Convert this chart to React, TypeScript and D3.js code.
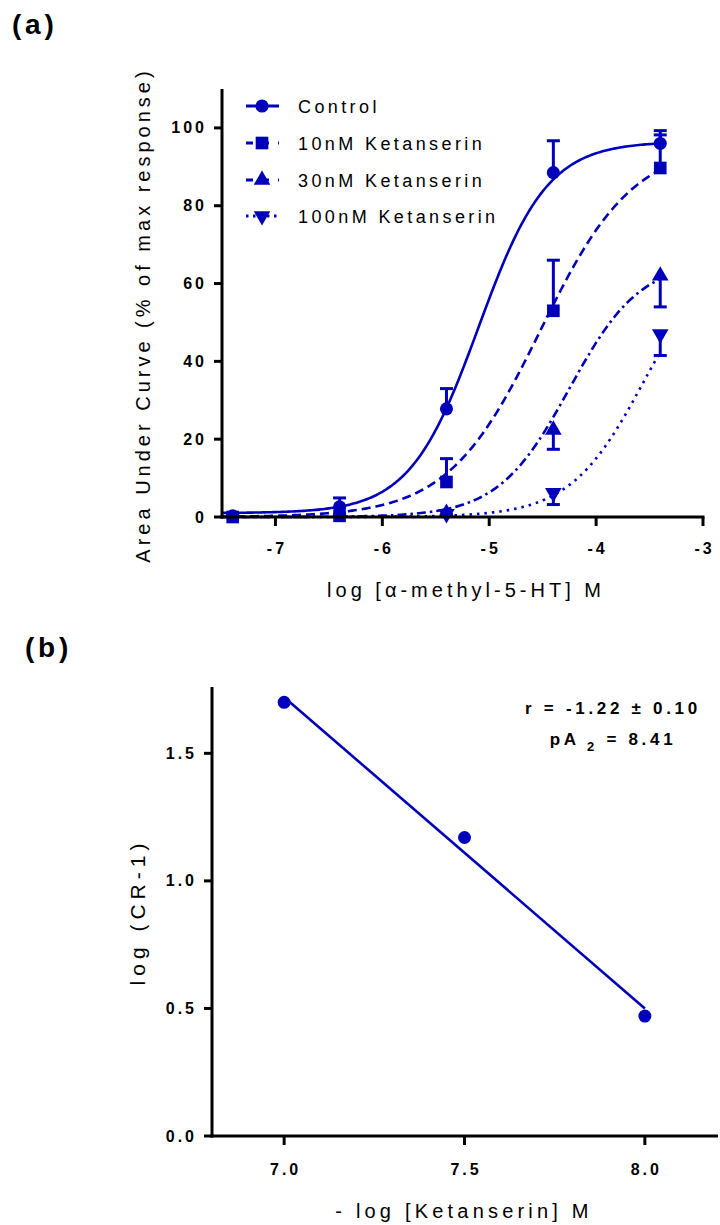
import React from "react";
import * as d3 from "d3";

// ---------- Panel (a) data ----------
const doseLog = [-7.4, -6.4, -5.4, -4.4, -3.4];
const seriesNames = ["Control", "10nM Ketanserin", "30nM Ketanserin", "100nM Ketanserin"];
const controlMean = [0.3, 2.6, 27.8, 88.5, 96.0];
const controlSem = [0.3, 2.3, 5.2, 8.2, 3.3];
const tenMean = [0.0, 0.3, 9.0, 53.0, 89.7];
const tenSem = [0.2, 0.4, 6.0, 13.0, 8.5];
const thirtyDose = [-5.4, -4.4, -3.4];
const thirtyMean = [1.0, 22.4, 62.0];
const thirtySem = [0.4, 5.0, 8.0];
const hundredDose = [-5.4, -4.4, -3.4];
const hundredMean = [0.8, 6.2, 47.0];
const hundredSem = [0.4, 3.0, 5.5];
// error bar direction (+1 up, -1 down)
const errDir = [1, 1, -1, -1];
// four-parameter logistic fit parameters per series
const fitBottom = [1.0, 0.0, 0.0, 0.0];
const fitTop = [96.5, 96.0, 66.0, 70.0];
const fitLogEC50 = [-5.1, -4.52, -4.25, -3.55];
const fitHill = [1.35, 1.0, 1.3, 1.25];
const xTicksA = [-7, -6, -5, -4, -3];
const yTicksA = [0, 20, 40, 60, 80, 100];

// ---------- Panel (b) data ----------
const antagLog = [7.0, 7.5, 8.0];
const logCR1 = [1.70, 1.17, 0.47];
const regSlope = -1.22;
const regAt7 = 1.72;
const xTicksB = [7.0, 7.5, 8.0];
const yTicksB = [0.0, 0.5, 1.0, 1.5];

const BLUE = "#0000bb";
const FONT = "'Liberation Sans', Arial, Helvetica, sans-serif";

const dashes = [null, "9,5", "9,4,2.5,4", "2.5,5"];
const symbols = [d3.symbolCircle, d3.symbolSquare, d3.symbolTriangle, d3.symbolTriangle];
const symSizes = [135, 160, 120, 120];
const symRot = [0, 0, 0, 180];

export default function App() {
  // Panel a scales
  const xA = d3.scaleLinear().domain([-7.5, -3]).range([222, 703]);
  const yA = d3.scaleLinear().domain([0, 110]).range([517, 89]);
  // Panel b scales
  const xB = d3.scaleLinear().domain([6.8, 8.2]).range([212, 717]);
  const yB = d3.scaleLinear().domain([0, 1.76]).range([1136, 687]);

  const series = [
    { x: doseLog, m: controlMean, s: controlSem },
    { x: doseLog, m: tenMean, s: tenSem },
    { x: thirtyDose, m: thirtyMean, s: thirtySem },
    { x: hundredDose, m: hundredMean, s: hundredSem },
  ];

  const logistic = (i: number, x: number) =>
    fitBottom[i] + (fitTop[i] - fitBottom[i]) / (1 + Math.pow(10, (fitLogEC50[i] - x) * fitHill[i]));

  const curvePath = (i: number) => {
    const xs = d3.range(-7.5, -3.4 + 1e-9, 0.02);
    return d3
      .line<number>()
      .x((d) => xA(d))
      .y((d) => yA(logistic(i, d)))
      .curve(d3.curveLinear)(xs) as string;
  };

  const sym = (i: number) => d3.symbol().type(symbols[i]).size(symSizes[i])() as string;

  const legendY = [106, 143, 180, 216];

  return (
    <svg
      width={720}
      height={1225}
      style={{ position: "absolute", left: 0, top: 0, background: "#fff" }}
      fontFamily={FONT}
    >
      <rect width={720} height={1225} fill="#fff" />
      {/* Panel labels */}
      <text x={12} y={34} fontSize={28} fontWeight="bold" letterSpacing={3.8}>(a)</text>
      <text x={25} y={657} fontSize={28} fontWeight="bold" letterSpacing={3.8}>(b)</text>

      {/* ===== Panel A ===== */}
      <g>
        {/* curves */}
        {seriesNames.map((_, i) => (
          <path
            key={"c" + i}
            d={curvePath(i)}
            fill="none"
            stroke={BLUE}
            strokeWidth={2.6}
            strokeDasharray={dashes[i] || undefined}
          />
        ))}
        {/* error bars */}
        {series.map((s, i) =>
          s.x.map((x, j) => {
            const y0 = yA(s.m[j]);
            const y1 = yA(s.m[j] + errDir[i] * s.s[j]);
            return (
              <g key={"e" + i + "-" + j} stroke={BLUE} strokeWidth={3}>
                <line x1={xA(x)} x2={xA(x)} y1={y0} y2={y1} />
                <line x1={xA(x) - 6.5} x2={xA(x) + 6.5} y1={y1} y2={y1} />
              </g>
            );
          })
        )}
        {/* markers */}
        {series.map((s, i) =>
          s.x.map((x, j) => (
            <path
              key={"m" + i + "-" + j}
              d={sym(i)}
              transform={`translate(${xA(x)},${yA(s.m[j])}) rotate(${symRot[i]})`}
              fill={BLUE}
            />
          ))
        )}
        {/* axes */}
        <line x1={222} x2={222} y1={yA(110)} y2={518.5} stroke="#000" strokeWidth={3} />
        <line x1={220.5} x2={xA(-3) + 1.5} y1={517} y2={517} stroke="#000" strokeWidth={3} />
        {yTicksA.map((t) => (
          <g key={"ya" + t}>
            <line x1={214} x2={222} y1={yA(t)} y2={yA(t)} stroke="#000" strokeWidth={3} />
            <text
              x={207}
              y={yA(t) + 5.5}
              textAnchor="end"
              fontSize={16}
              fontWeight="bold"
              letterSpacing={3}
            >
              {t}
            </text>
          </g>
        ))}
        {xTicksA.map((t) => (
          <g key={"xa" + t}>
            <line x1={xA(t)} x2={xA(t)} y1={517} y2={526} stroke="#000" strokeWidth={3} />
            <text
              x={xA(t) + 1.5}
              y={554}
              textAnchor="middle"
              fontSize={16}
              fontWeight="bold"
              letterSpacing={3}
            >
              {t}
            </text>
          </g>
        ))}
        <text x={466} y={597} textAnchor="middle" fontSize={20} letterSpacing={4}>
          log [α-methyl-5-HT] M
        </text>
        <text
          transform="translate(150,315) rotate(-90)"
          textAnchor="middle"
          fontSize={20}
          letterSpacing={4}
        >
          Area Under Curve (% of max response)
        </text>

        {/* legend */}
        {seriesNames.map((name, i) => (
          <g key={"l" + i}>
            <line
              x1={246}
              x2={279}
              y1={legendY[i]}
              y2={legendY[i]}
              stroke={BLUE}
              strokeWidth={3}
              strokeDasharray={i === 0 ? undefined : i === 3 ? "2.5,4.5" : "7,9"}
            />
            <path
              d={sym(i)}
              transform={`translate(262,${legendY[i]}) rotate(${symRot[i]})`}
              fill={BLUE}
            />
            <text x={298} y={legendY[i] + 6.5} fontSize={18} letterSpacing={3.4}>
              {name}
            </text>
          </g>
        ))}
      </g>

      {/* ===== Panel B ===== */}
      <g>
        <line
          x1={xB(7.0)}
          x2={xB(8.0)}
          y1={yB(regAt7)}
          y2={yB(regAt7 + regSlope * 1.0)}
          stroke={BLUE}
          strokeWidth={2.6}
        />
        {antagLog.map((x, j) => (
          <circle key={"pb" + j} cx={xB(x)} cy={yB(logCR1[j])} r={6.5} fill={BLUE} />
        ))}
        <line x1={212} x2={212} y1={687} y2={1137.5} stroke="#000" strokeWidth={3} />
        <line x1={210.5} x2={718} y1={1136} y2={1136} stroke="#000" strokeWidth={3} />
        {yTicksB.map((t) => (
          <g key={"yb" + t}>
            <line x1={204} x2={212} y1={yB(t)} y2={yB(t)} stroke="#000" strokeWidth={3} />
            <text
              x={197}
              y={yB(t) + 5.5}
              textAnchor="end"
              fontSize={16}
              fontWeight="bold"
              letterSpacing={3}
            >
              {t.toFixed(1)}
            </text>
          </g>
        ))}
        {xTicksB.map((t) => (
          <g key={"xb" + t}>
            <line x1={xB(t)} x2={xB(t)} y1={1136} y2={1145} stroke="#000" strokeWidth={3} />
            <text
              x={xB(t) + 1.5}
              y={1175}
              textAnchor="middle"
              fontSize={16}
              fontWeight="bold"
              letterSpacing={3}
            >
              {t.toFixed(1)}
            </text>
          </g>
        ))}
        <text x={464} y={1218} textAnchor="middle" fontSize={20} letterSpacing={4.2}>
          - log [Ketanserin] M
        </text>
        <text
          transform="translate(145,912) rotate(-90)"
          textAnchor="middle"
          fontSize={21}
          letterSpacing={5}
        >
          log (CR-1)
        </text>
        <text x={613} y={714} textAnchor="middle" fontSize={17} fontWeight="bold" letterSpacing={3.7}>
          r = -1.22 ± 0.10
        </text>
        <text x={613} y={745} textAnchor="middle" fontSize={17} fontWeight="bold" letterSpacing={3.7}>
          pA
          <tspan fontSize={13} dy={6}> 2</tspan>
          <tspan dy={-6}> = 8.41</tspan>
        </text>
      </g>
    </svg>
  );
}
